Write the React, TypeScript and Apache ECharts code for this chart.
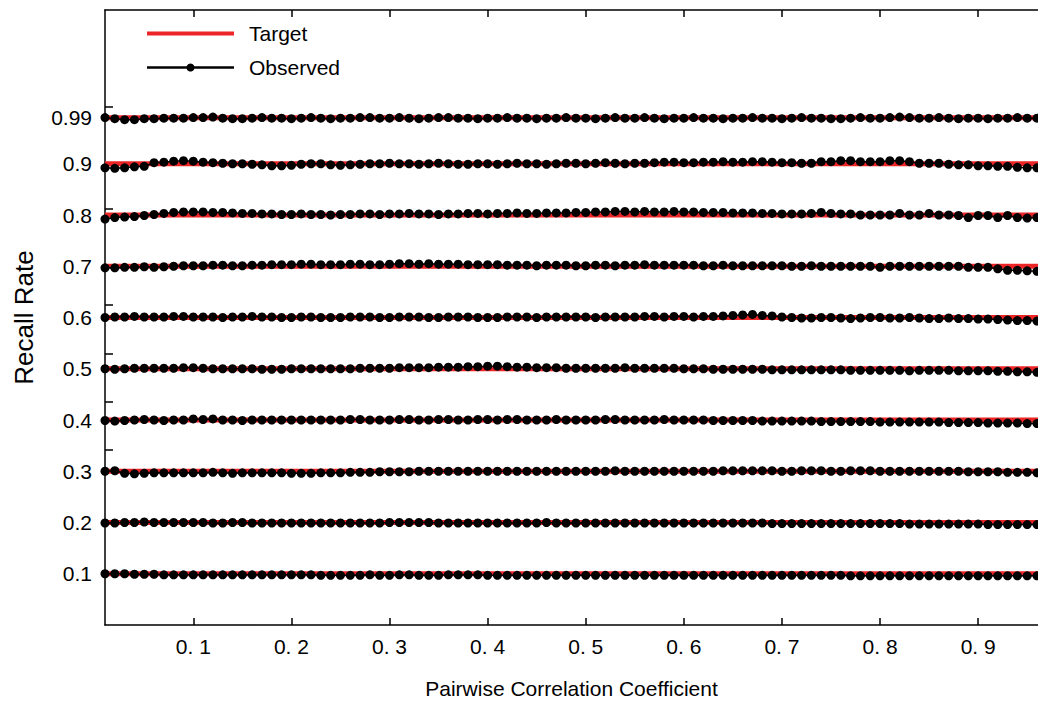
import React, { useEffect, useRef } from "react";
import * as echarts from "echarts";

// x positions (pairwise correlation coefficient)
const xValues = [
  0.01, 0.02, 0.03, 0.04, 0.05, 0.06, 0.07, 0.08, 0.09, 0.10, 0.11, 0.12,
  0.13, 0.14, 0.15, 0.16, 0.17, 0.18, 0.19, 0.20, 0.21, 0.22, 0.23, 0.24,
  0.25, 0.26, 0.27, 0.28, 0.29, 0.30, 0.31, 0.32, 0.33, 0.34, 0.35, 0.36,
  0.37, 0.38, 0.39, 0.40, 0.41, 0.42, 0.43, 0.44, 0.45, 0.46, 0.47, 0.48,
  0.49, 0.50, 0.51, 0.52, 0.53, 0.54, 0.55, 0.56, 0.57, 0.58, 0.59, 0.60,
  0.61, 0.62, 0.63, 0.64, 0.65, 0.66, 0.67, 0.68, 0.69, 0.70, 0.71, 0.72,
  0.73, 0.74, 0.75, 0.76, 0.77, 0.78, 0.79, 0.80, 0.81, 0.82, 0.83, 0.84,
  0.85, 0.86, 0.87, 0.88, 0.89, 0.90, 0.91, 0.92, 0.93, 0.94, 0.95, 0.96,
];

const targets = [0.1, 0.2, 0.3, 0.4, 0.5, 0.6, 0.7, 0.8, 0.9, 0.99];

const obs010 = [
  0.100, 0.100, 0.100, 0.099, 0.099, 0.099, 0.098, 0.098, 0.098, 0.098, 0.098, 0.098,
  0.098, 0.098, 0.098, 0.098, 0.098, 0.098, 0.098, 0.098, 0.098, 0.098, 0.097, 0.097,
  0.097, 0.097, 0.097, 0.098, 0.097, 0.097, 0.098, 0.098, 0.097, 0.097, 0.097, 0.098,
  0.098, 0.098, 0.098, 0.097, 0.097, 0.097, 0.097, 0.097, 0.097, 0.097, 0.097, 0.097,
  0.097, 0.097, 0.097, 0.097, 0.097, 0.097, 0.097, 0.097, 0.097, 0.097, 0.097, 0.097,
  0.097, 0.097, 0.097, 0.097, 0.097, 0.097, 0.097, 0.097, 0.097, 0.097, 0.097, 0.097,
  0.097, 0.097, 0.097, 0.097, 0.096, 0.096, 0.096, 0.096, 0.096, 0.096, 0.096, 0.096,
  0.096, 0.096, 0.096, 0.096, 0.096, 0.096, 0.096, 0.096, 0.096, 0.096, 0.096, 0.096,
];
const obs020 = [
  0.199, 0.199, 0.200, 0.200, 0.201, 0.200, 0.200, 0.200, 0.200, 0.200, 0.200, 0.199,
  0.199, 0.200, 0.200, 0.199, 0.199, 0.199, 0.199, 0.199, 0.199, 0.199, 0.199, 0.199,
  0.199, 0.199, 0.199, 0.199, 0.199, 0.200, 0.200, 0.200, 0.200, 0.200, 0.199, 0.199,
  0.199, 0.199, 0.199, 0.199, 0.199, 0.199, 0.199, 0.199, 0.199, 0.200, 0.199, 0.199,
  0.199, 0.199, 0.199, 0.199, 0.199, 0.199, 0.199, 0.199, 0.199, 0.199, 0.199, 0.199,
  0.199, 0.199, 0.199, 0.199, 0.199, 0.199, 0.199, 0.199, 0.198, 0.198, 0.198, 0.198,
  0.198, 0.198, 0.198, 0.198, 0.198, 0.198, 0.198, 0.198, 0.198, 0.198, 0.197, 0.197,
  0.197, 0.197, 0.197, 0.197, 0.197, 0.197, 0.196, 0.196, 0.196, 0.196, 0.196, 0.196,
];
const obs030 = [
  0.300, 0.301, 0.296, 0.295, 0.296, 0.297, 0.297, 0.297, 0.297, 0.297, 0.297, 0.298,
  0.297, 0.296, 0.297, 0.297, 0.297, 0.297, 0.297, 0.296, 0.296, 0.296, 0.297, 0.297,
  0.297, 0.298, 0.298, 0.298, 0.299, 0.299, 0.299, 0.299, 0.300, 0.300, 0.300, 0.300,
  0.300, 0.300, 0.300, 0.300, 0.300, 0.300, 0.300, 0.300, 0.300, 0.300, 0.300, 0.300,
  0.300, 0.300, 0.300, 0.300, 0.301, 0.300, 0.300, 0.300, 0.300, 0.300, 0.300, 0.300,
  0.300, 0.300, 0.300, 0.301, 0.301, 0.301, 0.301, 0.301, 0.301, 0.300, 0.300, 0.301,
  0.301, 0.301, 0.300, 0.300, 0.301, 0.301, 0.301, 0.300, 0.300, 0.300, 0.300, 0.300,
  0.300, 0.300, 0.300, 0.300, 0.299, 0.299, 0.299, 0.299, 0.298, 0.298, 0.298, 0.297,
];
const obs040 = [
  0.399, 0.398, 0.399, 0.400, 0.401, 0.400, 0.399, 0.400, 0.400, 0.402, 0.401, 0.402,
  0.400, 0.400, 0.399, 0.400, 0.400, 0.400, 0.400, 0.400, 0.400, 0.400, 0.400, 0.400,
  0.400, 0.401, 0.401, 0.400, 0.400, 0.400, 0.401, 0.401, 0.400, 0.400, 0.401, 0.401,
  0.400, 0.400, 0.401, 0.401, 0.400, 0.401, 0.401, 0.400, 0.400, 0.400, 0.401, 0.400,
  0.400, 0.400, 0.400, 0.401, 0.401, 0.400, 0.400, 0.400, 0.400, 0.401, 0.400, 0.400,
  0.400, 0.400, 0.399, 0.399, 0.399, 0.399, 0.399, 0.398, 0.398, 0.398, 0.398, 0.398,
  0.398, 0.397, 0.397, 0.397, 0.397, 0.397, 0.397, 0.396, 0.396, 0.396, 0.396, 0.396,
  0.396, 0.396, 0.395, 0.395, 0.395, 0.395, 0.394, 0.394, 0.394, 0.394, 0.393, 0.393,
];
const obs050 = [
  0.500, 0.499, 0.500, 0.501, 0.501, 0.501, 0.501, 0.501, 0.502, 0.502, 0.501, 0.500,
  0.500, 0.500, 0.500, 0.500, 0.499, 0.499, 0.499, 0.500, 0.500, 0.500, 0.500, 0.500,
  0.500, 0.500, 0.501, 0.501, 0.501, 0.501, 0.502, 0.502, 0.502, 0.502, 0.503, 0.503,
  0.503, 0.504, 0.504, 0.505, 0.505, 0.504, 0.503, 0.503, 0.502, 0.502, 0.502, 0.501,
  0.501, 0.501, 0.501, 0.501, 0.501, 0.502, 0.501, 0.501, 0.501, 0.501, 0.501, 0.500,
  0.500, 0.500, 0.499, 0.499, 0.499, 0.499, 0.499, 0.499, 0.498, 0.498, 0.498, 0.498,
  0.498, 0.498, 0.498, 0.498, 0.497, 0.497, 0.497, 0.497, 0.497, 0.497, 0.496, 0.497,
  0.497, 0.497, 0.497, 0.496, 0.496, 0.496, 0.496, 0.495, 0.495, 0.494, 0.494, 0.493,
];
const obs060 = [
  0.600, 0.601, 0.601, 0.602, 0.601, 0.601, 0.601, 0.602, 0.602, 0.601, 0.601, 0.601,
  0.600, 0.601, 0.601, 0.602, 0.601, 0.601, 0.600, 0.600, 0.601, 0.601, 0.600, 0.600,
  0.600, 0.601, 0.601, 0.601, 0.600, 0.600, 0.601, 0.601, 0.601, 0.600, 0.600, 0.601,
  0.601, 0.601, 0.600, 0.600, 0.600, 0.601, 0.601, 0.601, 0.600, 0.601, 0.601, 0.601,
  0.601, 0.601, 0.600, 0.601, 0.601, 0.601, 0.601, 0.602, 0.602, 0.601, 0.602, 0.602,
  0.601, 0.602, 0.602, 0.603, 0.604, 0.605, 0.606, 0.604, 0.603, 0.601, 0.600, 0.599,
  0.599, 0.600, 0.600, 0.599, 0.598, 0.599, 0.600, 0.600, 0.599, 0.599, 0.600, 0.599,
  0.598, 0.598, 0.599, 0.598, 0.598, 0.597, 0.597, 0.596, 0.595, 0.594, 0.594, 0.593,
];
const obs070 = [
  0.697, 0.697, 0.698, 0.698, 0.699, 0.698, 0.699, 0.700, 0.701, 0.701, 0.701, 0.702,
  0.702, 0.701, 0.701, 0.702, 0.702, 0.703, 0.703, 0.703, 0.704, 0.704, 0.703, 0.703,
  0.703, 0.704, 0.704, 0.703, 0.703, 0.704, 0.705, 0.705, 0.704, 0.705, 0.704, 0.704,
  0.704, 0.703, 0.703, 0.703, 0.703, 0.702, 0.702, 0.702, 0.701, 0.702, 0.702, 0.702,
  0.701, 0.701, 0.702, 0.702, 0.701, 0.702, 0.702, 0.703, 0.702, 0.702, 0.702, 0.702,
  0.702, 0.701, 0.701, 0.702, 0.701, 0.701, 0.701, 0.701, 0.701, 0.701, 0.700, 0.700,
  0.701, 0.700, 0.700, 0.700, 0.700, 0.700, 0.700, 0.698, 0.700, 0.700, 0.700, 0.700,
  0.700, 0.700, 0.700, 0.700, 0.698, 0.698, 0.698, 0.695, 0.692, 0.692, 0.691, 0.690,
];
const obs080 = [
  0.792, 0.795, 0.796, 0.797, 0.799, 0.801, 0.803, 0.805, 0.806, 0.806, 0.806, 0.805,
  0.805, 0.804, 0.803, 0.803, 0.802, 0.802, 0.801, 0.801, 0.802, 0.801, 0.801, 0.800,
  0.801, 0.801, 0.802, 0.802, 0.801, 0.802, 0.802, 0.803, 0.802, 0.802, 0.801, 0.802,
  0.802, 0.803, 0.803, 0.802, 0.803, 0.803, 0.804, 0.803, 0.803, 0.804, 0.804, 0.804,
  0.805, 0.805, 0.806, 0.806, 0.807, 0.807, 0.806, 0.807, 0.806, 0.806, 0.807, 0.806,
  0.806, 0.805, 0.805, 0.805, 0.804, 0.804, 0.804, 0.803, 0.803, 0.802, 0.802, 0.802,
  0.803, 0.805, 0.803, 0.802, 0.802, 0.800, 0.800, 0.800, 0.800, 0.803, 0.800, 0.800,
  0.803, 0.800, 0.800, 0.799, 0.795, 0.799, 0.799, 0.795, 0.799, 0.795, 0.794, 0.795,
];
const obs090 = [
  0.892, 0.891, 0.892, 0.894, 0.895, 0.902, 0.903, 0.905, 0.906, 0.905, 0.903, 0.902,
  0.901, 0.900, 0.900, 0.899, 0.898, 0.896, 0.896, 0.897, 0.899, 0.900, 0.900, 0.898,
  0.897, 0.898, 0.899, 0.900, 0.900, 0.901, 0.900, 0.900, 0.899, 0.900, 0.901, 0.900,
  0.899, 0.899, 0.900, 0.900, 0.899, 0.900, 0.901, 0.900, 0.900, 0.899, 0.900, 0.901,
  0.901, 0.900, 0.901, 0.902, 0.901, 0.900, 0.901, 0.901, 0.902, 0.903, 0.903, 0.902,
  0.902, 0.903, 0.903, 0.904, 0.903, 0.903, 0.904, 0.904, 0.903, 0.902, 0.902, 0.901,
  0.901, 0.904, 0.904, 0.906, 0.906, 0.904, 0.904, 0.904, 0.906, 0.906, 0.904, 0.901,
  0.901, 0.901, 0.899, 0.898, 0.898, 0.896, 0.896, 0.895, 0.895, 0.893, 0.892, 0.892,
];
const obs099 = [
  0.990, 0.988, 0.986, 0.986, 0.988, 0.988, 0.989, 0.989, 0.989, 0.990, 0.990, 0.991,
  0.989, 0.988, 0.988, 0.989, 0.990, 0.989, 0.989, 0.988, 0.989, 0.990, 0.989, 0.988,
  0.989, 0.989, 0.990, 0.990, 0.989, 0.989, 0.990, 0.989, 0.988, 0.989, 0.990, 0.990,
  0.989, 0.989, 0.988, 0.989, 0.989, 0.990, 0.989, 0.989, 0.988, 0.989, 0.989, 0.990,
  0.989, 0.989, 0.988, 0.989, 0.990, 0.989, 0.989, 0.990, 0.989, 0.988, 0.989, 0.989,
  0.990, 0.989, 0.989, 0.988, 0.989, 0.989, 0.990, 0.989, 0.989, 0.988, 0.989, 0.990,
  0.989, 0.989, 0.988, 0.988, 0.989, 0.990, 0.989, 0.989, 0.990, 0.991, 0.990, 0.989,
  0.989, 0.990, 0.989, 0.988, 0.989, 0.989, 0.988, 0.989, 0.989, 0.990, 0.989, 0.989,
];

const observedSets = [obs010, obs020, obs030, obs040, obs050, obs060, obs070, obs080, obs090, obs099];

const xTickValues = [0.1, 0.2, 0.3, 0.4, 0.5, 0.6, 0.7, 0.8, 0.9];
const xTickLabels = ["0. 1", "0. 2", "0. 3", "0. 4", "0. 5", "0. 6", "0. 7", "0. 8", "0. 9"];
const yLabelValues = [0.1, 0.2, 0.3, 0.4, 0.5, 0.6, 0.7, 0.8, 0.9, 0.99];
const yLabelTexts = ["0.1", "0.2", "0.3", "0.4", "0.5", "0.6", "0.7", "0.8", "0.9", "0.99"];
const yTickValues = [0.341, 0.435, 0.53, 0.625, 0.813, 1.011];

const X_MIN = 0.01;
const X_MAX = 0.961;
const Y_MIN = 0;
const Y_MAX = 1.2;

const FONT = "'Liberation Sans', Arial, Helvetica, sans-serif";
const RED = "#ee2527";

export default function App() {
  const ref = useRef<HTMLDivElement>(null);

  useEffect(() => {
    document.body.style.margin = "0";
    if (!ref.current) return;
    const chart = echarts.init(ref.current, undefined, { renderer: "svg" });

    const series: any[] = [];
    targets.forEach((t) => {
      series.push({
        name: "Target",
        type: "line",
        data: [
          [xValues[0], t],
          [X_MAX, t],
        ],
        symbol: "none",
        lineStyle: { color: RED, width: 5 },
        itemStyle: { color: RED },
        z: 2,
        silent: true,
      });
    });
    observedSets.forEach((vals) => {
      series.push({
        name: "Observed",
        type: "line",
        data: vals.map((v, i) => [xValues[i], v]),
        symbol: "circle",
        symbolSize: 9,
        showSymbol: true,
        lineStyle: { color: "#000", width: 1.5 },
        itemStyle: { color: "#000" },
        z: 3,
        silent: true,
      });
    });

    const xLabelFmt = (v: number) => {
      const idx = xTickValues.findIndex((t) => Math.abs(t - v) < 1e-6);
      return idx >= 0 ? xTickLabels[idx] : "";
    };
    const yLabelFmt = (v: number) => {
      const idx = yLabelValues.findIndex((t) => Math.abs(t - v) < 1e-6);
      return idx >= 0 ? yLabelTexts[idx] : "";
    };

    chart.setOption({
      animation: false,
      backgroundColor: "#fff",
      textStyle: { fontFamily: FONT },
      grid: { left: 105, right: 0, top: 10, bottom: 74, containLabel: false },
      legend: {
        data: [
          {
            name: "Target",
            itemStyle: { color: "rgba(0,0,0,0)", opacity: 0, borderWidth: 0 },
            lineStyle: { color: RED, width: 4 },
          },
          {
            name: "Observed",
            itemStyle: { color: "#000" },
            lineStyle: { color: "#000", width: 2.5 },
          },
        ],
        orient: "vertical",
        left: 145,
        top: 23,
        padding: 0,
        itemWidth: 87,
        itemHeight: 10,
        itemGap: 13,
        textStyle: { fontSize: 21, color: "#000", fontFamily: FONT, padding: [0, 0, 0, 10] },
        selectedMode: false,
      },
      xAxis: [
        {
          type: "value",
          min: X_MIN,
          max: X_MAX,
          position: "bottom",
          name: "Pairwise Correlation Coefficient",
          nameLocation: "middle",
          nameGap: 53,
          nameTextStyle: { fontSize: 21, color: "#000", fontFamily: FONT },
          axisLine: { show: true, onZero: false, lineStyle: { color: "#000", width: 1.5 } },
          axisTick: {
            show: true,
            inside: true,
            length: 7,
            customValues: xTickValues,
            lineStyle: { color: "#000", width: 1.5 },
          },
          axisLabel: {
            show: true,
            customValues: xTickValues,
            formatter: xLabelFmt,
            fontSize: 21,
            color: "#000",
            fontFamily: FONT,
            margin: 11,
          },
          splitLine: { show: false },
        },
        {
          type: "value",
          min: X_MIN,
          max: X_MAX,
          position: "top",
          axisLine: { show: true, onZero: false, lineStyle: { color: "#000", width: 1.5 } },
          axisTick: {
            show: true,
            inside: true,
            length: 7,
            customValues: xTickValues,
            lineStyle: { color: "#000", width: 1.5 },
          },
          axisLabel: { show: false },
          splitLine: { show: false },
        },
      ],
      yAxis: {
        type: "value",
        min: Y_MIN,
        max: Y_MAX,
        name: "Recall Rate",
        nameLocation: "middle",
        nameGap: 68,
        nameTextStyle: { fontSize: 26, color: "#000", fontFamily: FONT },
        axisLine: { show: true, onZero: false, lineStyle: { color: "#000", width: 1.5 } },
        axisTick: {
          show: true,
          inside: true,
          length: 8,
          customValues: yTickValues,
          lineStyle: { color: "#000", width: 1.5 },
        },
        axisLabel: {
          show: true,
          customValues: yLabelValues,
          formatter: yLabelFmt,
          fontSize: 21,
          color: "#000",
          fontFamily: FONT,
          margin: 13,
        },
        splitLine: { show: false },
      },
      series,
    });

    return () => {
      chart.dispose();
    };
  }, []);

  return <div ref={ref} style={{ width: 1038, height: 704 }} />;
}
